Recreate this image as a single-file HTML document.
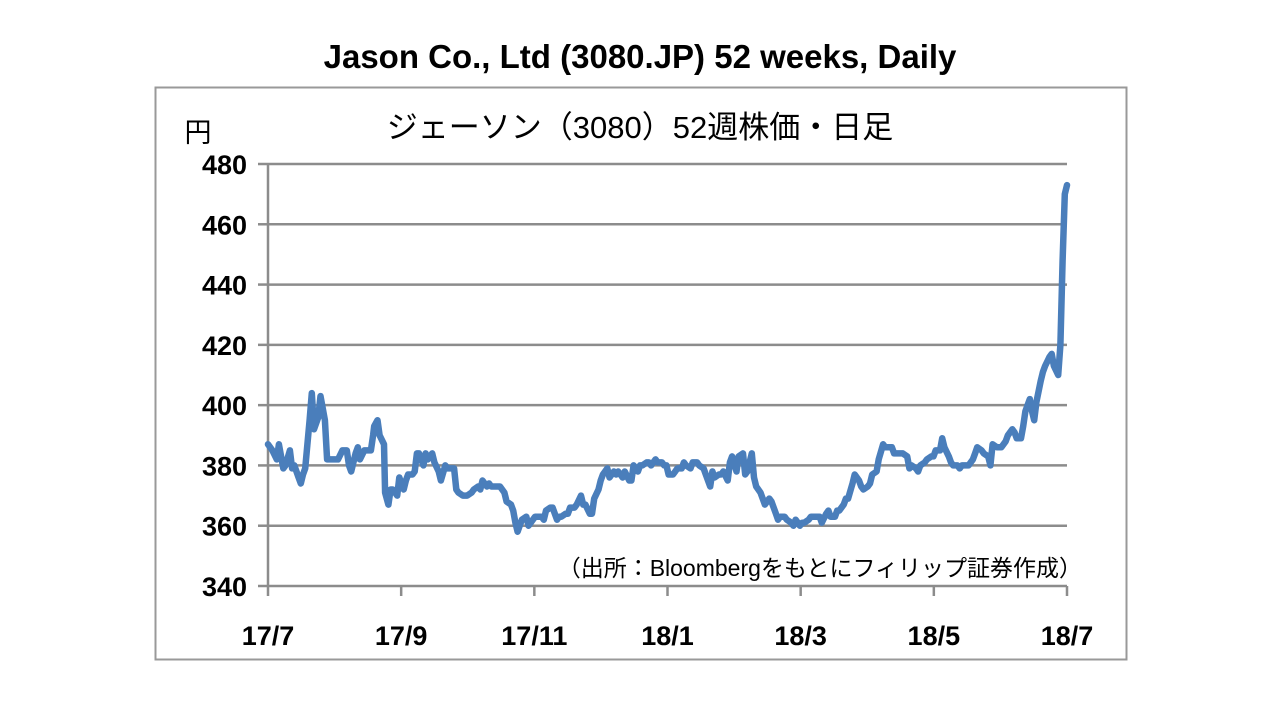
<!DOCTYPE html>
<html><head><meta charset="utf-8"><style>
body{margin:0;background:#fff;width:1280px;height:720px;overflow:hidden}
svg text{font-family:"Liberation Sans","Noto Sans CJK JP",sans-serif}
</style></head><body>
<svg width="1280" height="720" id="c">
<text x="640" y="68" text-anchor="middle" font-size="33" font-weight="bold" fill="#000">Jason Co., Ltd (3080.JP) 52 weeks, Daily</text>
<rect x="155.5" y="87.5" width="971" height="572" fill="none" stroke="#999" stroke-width="2"/>
<text x="640" y="138" text-anchor="middle" font-size="31" fill="#000">ジェーソン（3080）52週株価・日足</text>
<text x="198" y="142" text-anchor="middle" font-size="27" fill="#000">円</text>
<text x="1082" y="576" text-anchor="end" font-size="23" fill="#000">（出所：Bloombergをもとにフィリップ証券作成）</text>
<g id="grid"></g><g id="axes"></g><g id="series"></g>
</svg>
<script>
const yTicks=[340,360,380,400,420,440,460,480];
const xTickLabels=["17/7","17/9","17/11","18/1","18/3","18/5","18/7"];
const days=[0,2,4,5,7,8,10,11,12,14,15,16,17,19,20,21,23,24,26,27,29,31,32,34,36,37,38,40,41,42,44,45,47,48,48.5,50,51,53,53.5,55,56,57,59,60,62,63,64,66,67,68,69,71,72,73,75,76,78,79,81,82,83,85,86,87,89,90,91,93,94,96,97,98,100,101,102,104,105,106,108,109,111,112,113,114,115,116,118,119,121,122,123,125,126,127,129,130,132,133,134,136,137,138,140,141,143,144,145,147,148,149,151,152,153,155,156,158,159,160,162,163,165,166,167,169,170,171,173,174,175,177,178,180,181,182,183,185,186,187,189,190,191,193,194,196,197,199,200,202,203,204,206,207,208,210,211,212,214,215,217,218,219,221,222,223,225,226,227,229,230,232,233,234,236,237,239,240,241,243,244,245,247,248,250,251,252,253,255,256,257,259,260,261,263,264,265,267,268,270,271,272,274,275,276,278,279,281,282,283,285,286,287,289,290,292,293,294,296,297,298,300,301,303,304,305,307,308,309,311,312,313,315,316,317,319,320,322,323,324,326,327,329,330,331,333,334,335,337,338,340,341,342,344,345,346,348,349,350,351,353,354,355,357,358,359,361,362,363,364,365];
const prices=[387,385,382,387,379,380,385,379,380,376,374,377,379,395,404,392,396,403,395,382,382,382,382,385,385,380,378,384,386,382,385,385,385,390,393,395,390,387,371,367,372,372,370,376,372,375,377,377,378,384,384,380,384,382,384,381,378,375,380,379,379,379,372,371,370,370,370,371,372,373,372,375,373,374,373,373,373,373,371,368,367,365,361,358,360,362,363,360,362,363,363,363,362,365,366,366,362,363,363,364,364,366,366,367,370,367,367,364,364,369,372,375,377,379,376,378,377,378,376,378,375,375,380,378,380,380,381,381,380,382,381,381,380,380,377,377,378,379,379,381,380,379,381,381,380,379,377,373,378,376,377,377,378,375,381,383,378,383,384,377,378,384,376,373,371,369,367,369,368,364,362,363,363,362,361,360,362,360,361,361,362,363,363,363,363,361,364,365,363,363,365,365,367,369,369,374,377,375,373,372,373,374,377,378,382,387,386,386,386,384,384,384,384,383,379,380,379,378,380,381,382,383,383,385,385,389,386,383,381,380,380,379,380,380,380,382,384,386,385,384,383,380,387,386,386,386,388,390,392,391,389,389,393,398,402,398,395,401,408,411,413,416,417,413,410,420,448,470,473];
const X0=268,X1=1067,Y0=586,Y1=164;
const ys=v=>Y0-(v-340)/(480-340)*(Y0-Y1);
const xd=d=>X0+d/365*(X1-X0);
const NS="http://www.w3.org/2000/svg";
function mk(t,a,p){const e=document.createElementNS(NS,t);for(const k in a)e.setAttribute(k,a[k]);p.appendChild(e);return e;}
const grid=document.getElementById('grid'),axes=document.getElementById('axes'),ser=document.getElementById('series');
yTicks.forEach(v=>{
 const y=ys(v);
 if(v>340){const l=mk('line',{x1:X0,x2:X1,y1:y,y2:y,stroke:'#8c8c8c','stroke-width':2.5},grid);
 
 }
 const tk=mk('line',{x1:X0-10,x2:X0,y1:y,y2:y,stroke:'#8c8c8c','stroke-width':2.5},axes);
 
 
 const t=mk('text',{x:247,y:y+10,'text-anchor':'end','font-size':27,'font-weight':'bold'},axes);
 t.textContent=v;
 
 
});
const ax=mk('line',{x1:X0,x2:X0,y1:Y1,y2:Y0,stroke:'#8c8c8c','stroke-width':2.5},axes);


const bx=mk('line',{x1:X0,x2:X1,y1:Y0,y2:Y0,stroke:'#8c8c8c','stroke-width':2.5},axes);


xTickLabels.forEach((s,i)=>{
 const x=X0+i*(X1-X0)/(xTickLabels.length-1);
 const tk=mk('line',{x1:x,x2:x,y1:Y0,y2:Y0+10,stroke:'#8c8c8c','stroke-width':2.5},axes);
 
 
 const t=mk('text',{x:x,y:645,'text-anchor':'middle','font-size':27,'font-weight':'bold'},axes);
 t.textContent=s;
 
 
});
const d=prices.map((v,i)=>(i?'L':'M')+xd(days[i]).toFixed(1)+','+ys(v).toFixed(1)).join(' ');
const p=mk('path',{d:d,fill:'none',stroke:'#4a7ebb','stroke-width':6.5,'stroke-linejoin':'round','stroke-linecap':'round'},ser);


</script>
</body></html>
